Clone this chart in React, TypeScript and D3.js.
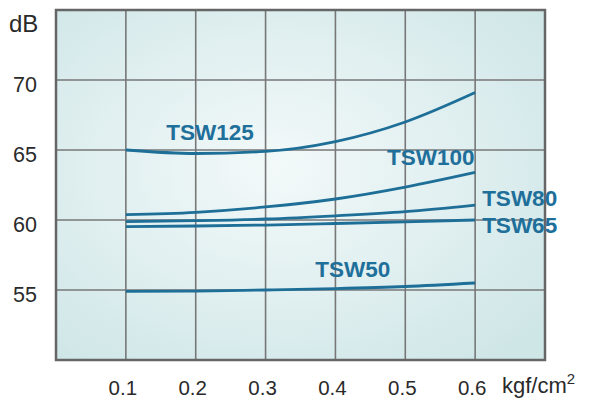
import React from "react";
import * as d3 from "d3";

const pressures = [0.1, 0.2, 0.3, 0.4, 0.5, 0.6];
const tsw125 = [65.0, 64.75, 64.9, 65.6, 67.0, 69.1];
const tsw100 = [60.38, 60.55, 60.93, 61.5, 62.35, 63.4];
const tsw80 = [59.88, 59.95, 60.07, 60.3, 60.6, 61.07];
const tsw65 = [59.52, 59.57, 59.64, 59.75, 59.87, 60.0];
const tsw50 = [54.9, 54.92, 55.0, 55.1, 55.25, 55.5];
const seriesNames = ["TSW125", "TSW100", "TSW80", "TSW65", "TSW50"];
const yTicks = [55, 60, 65, 70];
const xTicks = [0.1, 0.2, 0.3, 0.4, 0.5, 0.6];

const W = 589;
const H = 400;
const L = 56, R = 545, T = 10, B = 360;
const FONT = "Liberation Sans, Arial, sans-serif";

export default function App() {
  const x = d3.scaleLinear().domain([0, 0.7]).range([L, R]);
  const y = d3.scaleLinear().domain([50, 75]).range([B, T]);
  const all = [tsw125, tsw100, tsw80, tsw65, tsw50];
  const line = d3
    .line<number>()
    .x((_, i) => x(pressures[i]))
    .y((d) => y(d))
    .curve(d3.curveMonotoneX);
  const lineColor = "#1e6f98";
  const textColor = "#1f6f9b";
  // label anchor positions (data units): left x, baseline y
  const labels = [
    { name: seriesNames[0], x: 0.158, y: 65.7 },
    { name: seriesNames[1], x: 0.474, y: 63.9 },
    { name: seriesNames[2], x: 0.61, y: 61.0 },
    { name: seriesNames[3], x: 0.61, y: 59.1 },
    { name: seriesNames[4], x: 0.371, y: 55.9 },
  ];
  const gridX = d3.range(1, 7).map((i) => i / 10);
  const gridY = [55, 60, 65, 70];
  return (
    <svg width={W} height={H} style={{ position: "absolute", left: 0, top: 0 }}>
      <defs>
        <radialGradient id="bg" cx="0.45" cy="0.45" r="0.7">
          <stop offset="0" stopColor="#f3f9f9" />
          <stop offset="0.6" stopColor="#deeeef" />
          <stop offset="1" stopColor="#cfe6e7" />
        </radialGradient>
      </defs>
      <rect x={0} y={0} width={W} height={H} fill="#ffffff" />
      <rect x={L} y={T} width={R - L} height={B - T} fill="url(#bg)" />
      {gridX.map((v) => (
        <line key={"gx" + v} x1={x(v)} x2={x(v)} y1={T} y2={B} stroke="#777" strokeWidth={1.6} />
      ))}
      {gridY.map((v) => (
        <line key={"gy" + v} x1={L} x2={R} y1={y(v)} y2={y(v)} stroke="#777" strokeWidth={1.6} />
      ))}
      <rect x={L} y={T} width={R - L} height={B - T} fill="none" stroke="#666" strokeWidth={2.5} />
      {all.map((s, i) => (
        <path key={"l" + i} d={line(s) || ""} fill="none" stroke={lineColor} strokeWidth={2.8} />
      ))}
      {labels.map((lb) => (
        <text
          key={lb.name}
          x={x(lb.x)}
          y={y(lb.y)}
          fill={textColor}
          fontFamily={FONT}
          fontWeight="bold"
          fontSize={22.5}
        >
          {lb.name}
        </text>
      ))}
      {yTicks.map((v) => (
        <text
          key={"yt" + v}
          x={37}
          y={y(v) + 11.5}
          textAnchor="end"
          fontFamily={FONT}
          fontSize={21.5}
          fill="#2a2a2a"
        >
          {v}
        </text>
      ))}
      <text x={9} y={32} fontFamily={FONT} fontSize={24} fill="#2a2a2a">
        dB
      </text>
      {xTicks.map((v) => (
        <text
          key={"xt" + v}
          x={x(v) - 3}
          y={395}
          textAnchor="middle"
          fontFamily={FONT}
          fontSize={20.5}
          fill="#2a2a2a"
        >
          {v.toFixed(1)}
        </text>
      ))}
      <text x={502} y={393} fontFamily={FONT} fontSize={22} fill="#2a2a2a">
        kgf/cm
        <tspan dy={-9} fontSize={15}>2</tspan>
      </text>
    </svg>
  );
}
